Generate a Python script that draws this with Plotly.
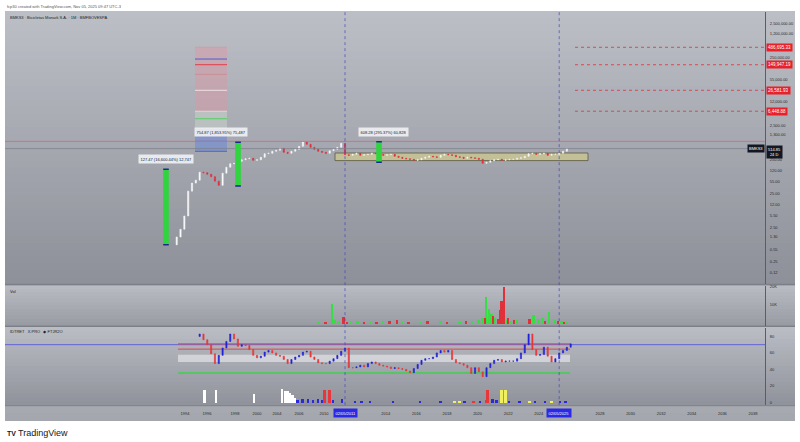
import plotly.graph_objects as go
import math

# ---------------- data ----------------
bar_index_pre = list(range(-132, 0, 3))     # compressed history before May-2011 (bar slots)
bar_index_post = list(range(0, 175, 3))     # bar slots from May-2011 (1 slot = 1 month)
close_pre = [1.3, 2.2, 5.4, 29, 50, 61, 104, 101, 91, 77,
             57, 43, 98, 146, 185, 190, 218, 241, 258, 267,
             233, 241, 286, 365, 375, 429, 458, 524, 401, 375,
             429, 490, 599, 815, 687, 560, 490, 429, 401, 375,
             445, 490, 560, 735]
close_post = [340, 327, 350, 375, 327, 340, 350, 375, 365, 350,
              327, 340, 350, 306, 286, 267, 258, 250, 233, 241,
              267, 286, 306, 296, 286, 327, 350, 340, 327, 296,
              286, 267, 286, 276, 267, 250, 190, 204, 225, 241,
              250, 233, 241, 250, 250, 267, 276, 306, 365, 375,
              350, 365, 375, 327, 350, 350, 375, 429, 514.85]
first_open = 0.77

vol_up_index = [-20, -10, -8, -5, 5, 10, 20, 30, 45, 60, 75, 90, 100, 105, 108, 111, 113, 115, 118, 127,
                130, 135, 148, 152, 155, 160, 165, 170, 174]
vol_up_k = [0.5, 10.8, 2, 1.5, 1, 1.5, 1, 1.2, 0.8, 1, 1.3, 1, 1.5, 2, 3, 14.6, 8, 5, 3, 2,
            1.5, 2, 4.6, 2.5, 3, 6, 2, 1.5, 1]
vol_dn_index = [-15, -1, 2, 15, 25, 35, 41, 50, 65, 80, 95, 110, 116, 120, 122, 123, 125, 128, 133, 145,
                157, 167, 172]
vol_dn_k = [0.6, 3.7, 1, 0.8, 1, 1.5, 2, 1, 1.2, 1, 1.3, 3, 4, 2.5, 7.6, 12.3, 19.5, 3, 2, 2.5,
            1.5, 1.5, 1]

ind_index = list(range(-114, 178, 3))
ind_values = [83, 76, 70, 59, 47, 57, 66, 74, 83, 77,
              68, 70, 69, 64, 57, 54, 56, 61, 63, 60,
              57, 56, 52, 47, 52, 55, 57, 61, 62, 55,
              52, 48, 47, 47, 50, 53, 57, 62,
              66, 42, 42, 43, 45, 43, 47, 49, 47, 45,
              44, 43, 41, 42, 41, 40, 38, 36, 41, 46,
              51, 53, 53, 55, 60, 63, 61, 63, 52, 48,
              47, 45, 42, 35, 42, 37, 31, 42, 47, 51,
              52, 49, 50, 50, 50, 53, 60, 70, 83, 64,
              57, 58, 67, 56, 49, 53, 60, 63, 67, 71]
ind_first_open = 80

hist_white_index = [-110, -101, -71, -49, -47, -45, -43, -41, -39]
hist_white = [15, 16, 10, 17, 14, 14, 12, 9, 6]
hist_blue_index = [-37, -33, -29, -25, -21, -18, -9, -2, 8, 13, 20, 38, 59, 75, 94, 106, 116, 119, 129, 137,
                   149, 157, 169, 173]
hist_blue = [3, 4, 5, 3, 4, 3, 3, 5, 2, 2, 1.5, 1, 1.5, 1, 1.5, 2, 5, 3, 2, 2, 2, 1.5, 2, 1]
hist_red_index = [-16, -12, 101, 111, 112]
hist_red = [15, 15, 2, 3, 15]
hist_yellow_index = [86, 90, 123, 126, 145, 162]
hist_yellow = [1.5, 1, 15, 15, 2, 2]

price_ticks = [0.12, 0.25, 0.55, 1.30, 2.50, 5.50, 12, 25, 55, 120, 250, 1300, 2500, 12000, 55000,
               250000, 1200000, 2500000, 5500000]
year_tick_index = [-125.5, -108.2, -86.3, -69, -53.3, -36.1, -16.5, 32, 56, 80, 104, 128, 152,
                   200, 224, 248, 272, 296, 320]
year_tick_labels = ["1994", "1996", "1998", "2000", "2004", "2006", "2010", "2014", "2016", "2018",
                    "2020", "2022", "2024", "2028", "2030", "2032", "2034", "2036", "2038"]

fib_levels = [428, 840, 1850, 3880, 6448.88, 26581.93, 78000, 149947.19, 220000, 486695.33]
target_levels = [486695.33, 149947.19, 26581.93, 6448.88]
resistance_level = 840
range_box = (229, 382)
measures = [  # (slot, from, to, label)
    (-140.4, 0.768, 128.2, "127.47 (16,600.44%) 12,747"),
    (-83.9, 40.7, 795.6, "754.87 (1,853.95%) 75,487"),
    (26.7, 206, 814, "608.28 (295.37%) 60,828"),
]
marker_slots = [0, 168]
marker_labels = ["02/05/2011", "02/05/2025"]
ind_levels = dict(blue=70, red_hi=71, red_lo=64.6, band_lo=48.8, band_hi=57.8, green=35.5)

# ---------------- helpers ----------------
W, H = 800, 442
def px2i(px):
    return (px - 345) / 1.275
def py(px):
    return 1 - px / H
def hexmix(c1, c2, t):
    a = [int(c1[i:i + 2], 16) for i in (1, 3, 5)]
    b = [int(c2[i:i + 2], 16) for i in (1, 3, 5)]
    return "#" + "".join(f"{round(a[k] + (b[k] - a[k]) * t):02x}" for k in range(3))

closes = close_pre + close_post
idx = bar_index_pre + bar_index_post
opens = [first_open] + closes[:-1]
highs = [max(o, c) for o, c in zip(opens, closes)]
lows = [min(o, c) for o, c in zip(opens, closes)]
ind_open = [ind_first_open] + ind_values[:-1]

fig = go.Figure()
fig.add_trace(go.Candlestick(
    x=idx, open=opens, high=highs, low=lows, close=closes, yaxis="y",
    increasing=dict(line=dict(color="#f4f4f6", width=0.6), fillcolor="#ffffff"),
    decreasing=dict(line=dict(color="#e0303a", width=0.6), fillcolor="#e0303a"),
    whiskerwidth=0, showlegend=False))
fig.add_trace(go.Bar(x=vol_up_index, y=vol_up_k, yaxis="y2", marker_color="#37dd45",
                     marker_line_width=0, width=1.4, showlegend=False))
fig.add_trace(go.Bar(x=vol_dn_index, y=vol_dn_k, yaxis="y2", marker_color="#e0303a",
                     marker_line_width=0, width=1.4, showlegend=False))
for xs, ys, col in [(hist_white_index, hist_white, "#ffffff"), (hist_blue_index, hist_blue, "#2a2ad8"),
                    (hist_red_index, hist_red, "#e8363a"), (hist_yellow_index, hist_yellow, "#f0f060")]:
    fig.add_trace(go.Bar(x=xs, y=ys, yaxis="y3", marker_color=col, marker_line_width=0,
                         width=1.5, showlegend=False))
fig.add_trace(go.Candlestick(
    x=ind_index, open=ind_open, high=[max(a, b) for a, b in zip(ind_open, ind_values)],
    low=[min(a, b) for a, b in zip(ind_open, ind_values)], close=ind_values, yaxis="y3",
    increasing=dict(line=dict(color="#2323d6", width=0.6), fillcolor="#2323d6"),
    decreasing=dict(line=dict(color="#e5393b", width=0.6), fillcolor="#e5393b"),
    whiskerwidth=0, showlegend=False))

shapes = []
# background gradients (stacked, each band reaching the pane bottom -> no seams)
def grad(y0, y1, ctop, cbot, n=24):
    step = (y1 - y0) / n
    for k in range(n):
        shapes.append(dict(type="rect", xref="paper", yref="paper", x0=5 / W, x1=795 / W,
                           y0=py(y1), y1=py(y0 + k * step), layer="below",
                           line=dict(width=0), fillcolor=hexmix(ctop, cbot, (k + 0.5) / n)))
grad(9, 283, "#bcbfc6", "#8d9098", 40)
grad(283, 285, "#7c7f87", "#7c7f87", 1)
grad(285, 325, "#b9bcc3", "#989ba2", 12)
grad(325, 327, "#7c7f87", "#7c7f87", 1)
grad(327, 405, "#babdc4", "#8f929a", 20)
grad(405, 421, "#a7aab0", "#a3a6ac", 2)
shapes.append(dict(type="line", xref="paper", yref="paper", x0=5 / W, x1=795 / W, y0=py(405.5), y1=py(405.5),
                   line=dict(color="#7c7f87", width=1), layer="below"))

# range box
shapes.append(dict(type="rect", xref="x", yref="y", x0=px2i(335), x1=px2i(588), y0=range_box[0], y1=range_box[1],
                   fillcolor="rgba(203,198,145,0.8)", line=dict(color="#5c5a3c", width=0.8), layer="below"))
# fib box
fx0, fx1 = px2i(195), px2i(227)
for lo, hi, col in [(fib_levels[4], fib_levels[9], "rgba(222,150,165,0.45)"),
                    (fib_levels[2], fib_levels[4], "rgba(200,210,200,0.55)"),
                    (fib_levels[0], fib_levels[2], "rgba(105,135,215,0.55)")]:
    shapes.append(dict(type="rect", xref="x", yref="y", x0=fx0, x1=fx1, y0=lo, y1=hi,
                       fillcolor=col, line=dict(width=0), layer="below"))
fib_cols = ["#4a5fd0", "#4a5fd0", "#4a5fd0", "#46d05a", "#e8d8dc", "#f2e6e8", "#c98a95", "#e0303a", "#3f56d8", "#d49aa5"]
for lv, col in zip(fib_levels, fib_cols):
    shapes.append(dict(type="line", xref="x", yref="y", x0=fx0, x1=fx1, y0=lv, y1=lv,
                       line=dict(color=col, width=0.9), layer="below"))
# resistance and last price lines
shapes.append(dict(type="line", xref="x domain", yref="y", x0=0, x1=1, y0=resistance_level, y1=resistance_level,
                   line=dict(color="#d7707b", width=1)))
shapes.append(dict(type="line", xref="x domain", yref="y", x0=0, x1=1, y0=closes[-1], y1=closes[-1],
                   line=dict(color="#7d8088", width=0.7)))
for lv in target_levels:
    shapes.append(dict(type="line", xref="x", yref="y", x0=px2i(575), x1=px2i(765), y0=lv, y1=lv,
                       line=dict(color="#e0303a", width=0.8, dash="dot")))
# measures
for sx, v0, v1, _ in measures:
    shapes.append(dict(type="rect", xref="x", yref="y", x0=sx - 2.2, x1=sx + 2.2, y0=v0, y1=v1,
                       fillcolor="#2fd43f", line=dict(width=0)))
    for v in (v0, v1):
        shapes.append(dict(type="line", xref="x", yref="y", x0=sx - 2.2, x1=sx + 2.2, y0=v, y1=v,
                           line=dict(color="#1a2a8a", width=1.5)))
# indicator levels
shapes.append(dict(type="line", xref="x domain", yref="y3", x0=0, x1=1, y0=ind_levels["blue"], y1=ind_levels["blue"],
                   line=dict(color="#4b4be0", width=0.8), layer="below"))
ix0, ix1 = px2i(178), px2i(570)
shapes.append(dict(type="rect", xref="x", yref="y3", x0=ix0, x1=ix1, y0=ind_levels["band_lo"], y1=ind_levels["band_hi"],
                   fillcolor="rgba(236,236,240,0.6)", line=dict(width=0), layer="below"))
for key in ("red_hi", "red_lo"):
    shapes.append(dict(type="line", xref="x", yref="y3", x0=ix0, x1=ix1, y0=ind_levels[key], y1=ind_levels[key],
                       line=dict(color="#d8464c", width=1), layer="below"))
shapes.append(dict(type="line", xref="x", yref="y3", x0=ix0, x1=ix1, y0=ind_levels["green"], y1=ind_levels["green"],
                   line=dict(color="#3ed14a", width=1.5), layer="below"))
# vertical date markers
for s in marker_slots:
    shapes.append(dict(type="line", xref="x", yref="paper", x0=s, x1=s, y0=py(405), y1=py(9),
                       line=dict(color="#4646c4", width=0.7, dash="dot")))

ann = []
def txt(x, y, t, size=4, color="#2b2b2b", **kw):
    d = dict(x=x, y=y, xref="paper", yref="paper", text=t, showarrow=False, xanchor="left", yanchor="middle",
             font=dict(size=size, color=color, family="Liberation Sans"))
    d.update(kw)
    ann.append(d)
txt(5 / W, py(5), "fcp30 created with TradingView.com, Nov 05, 2025 09:47 UTC-3", color="#555")
txt(8 / W, py(16), "BMKS3 · Bicicletas Monark S.A. · 1M · BMFBOVESPA", color="#222")
txt(8 / W, py(291), "Vol", color="#222")
txt(8 / W, py(331), "IDTRET   X.PRO   ◆ FTJR2O", color="#222")
txt(5 / W, py(433), "<b>TV</b>", size=7, color="#131722")
txt(16 / W, py(433), "TradingView", size=9, color="#131722")

for lv in target_levels:
    ann.append(dict(x=766 / W, y=math.log10(lv), xref="paper", yref="y", text=f"{lv:,.2f}", showarrow=False,
                    xanchor="left", yanchor="middle", bgcolor="#e8202a", borderpad=1,
                    font=dict(size=4.5, color="#ffffff", family="Liberation Sans")))
ann.append(dict(x=765 / W, y=math.log10(closes[-1]), xref="paper", yref="y", text="BMKS3", showarrow=False,
                xanchor="right", yanchor="middle", bgcolor="#131722", borderpad=1,
                font=dict(size=4, color="#ffffff", family="Liberation Sans")))
ann.append(dict(x=766 / W, y=math.log10(closes[-1]), xref="paper", yref="y", text=f"{closes[-1]:.2f}<br>24 D",
                showarrow=False, xanchor="left", yanchor="top", yshift=4, bgcolor="#131722", borderpad=1,
                font=dict(size=4, color="#ffffff", family="Liberation Sans")))
label_x = [px2i(166), px2i(221), px2i(383)]
for (sx, v0, v1, t), lx in zip(measures, label_x):
    ann.append(dict(x=lx, y=math.log10(v1), xref="x", yref="y", text=t, showarrow=False, yshift=10,
                    xanchor="center", yanchor="middle", bgcolor="rgba(236,237,241,0.95)", borderpad=1.5,
                    font=dict(size=4, color="#222", family="Liberation Sans")))
for s, t in zip(marker_slots, marker_labels):
    ann.append(dict(x=s, y=py(413), xref="x", yref="paper", text=t, showarrow=False, xanchor="center",
                    yanchor="middle", bgcolor="#2a2ae6", borderpad=1.5,
                    font=dict(size=4, color="#ffffff", family="Liberation Sans")))

axfont = dict(size=4, color="#2b2b2b", family="Liberation Sans")
common_y = dict(side="right", anchor="x", showgrid=False, zeroline=False, showline=True,
                linecolor="#5a5d64", linewidth=1, ticks="", tickfont=axfont, ticklabelstandoff=3)
fig.update_layout(
    width=W, height=H, margin=dict(l=0, r=0, t=0, b=0),
    paper_bgcolor="#ffffff", plot_bgcolor="rgba(0,0,0,0)", showlegend=False,
    barmode="overlay", bargap=0, boxgap=0.55,
    xaxis=dict(domain=[5 / W, 765 / W], range=[px2i(5), px2i(765)], anchor="y3", showgrid=False,
               zeroline=False, showline=False, ticks="", tickvals=year_tick_index, ticktext=year_tick_labels,
               tickfont=axfont, ticklabelstandoff=5, rangeslider=dict(visible=False)),
    yaxis=dict(domain=[py(283), py(10)], type="log", range=[-1.2571, 6.7254],
               tickvals=price_ticks, ticktext=[f"{v:,.2f}" for v in price_ticks], **common_y),
    yaxis2=dict(domain=[py(325), py(285)], range=[-1.2, 20.3], tickvals=[10, 20], ticktext=["10K", "20K"],
                **common_y),
    yaxis3=dict(domain=[py(405), py(327)], range=[-3.6, 90.9], tickvals=[0, 20, 40, 60, 80], **common_y),
    shapes=shapes, annotations=ann,
)
fig.write_html("out.html", config={"displayModeBar": False},
               post_script="document.body.style.margin='0';document.body.style.overflow='hidden';")
